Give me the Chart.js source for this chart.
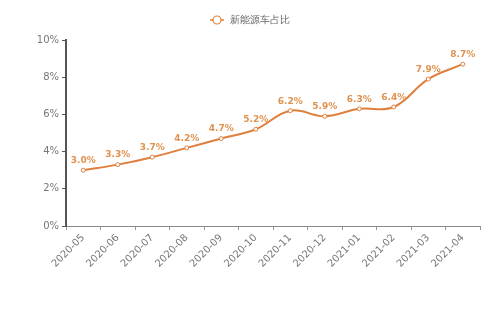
<!DOCTYPE html>
<html><head><meta charset="utf-8">
<script src="https://cdn.jsdelivr.net/npm/chart.js@4"></script>
<style>html,body{margin:0;padding:0;background:#fff}#wrap{width:500px;height:333px}</style>
</head><body><div id="wrap"><canvas id="c" width="500" height="333"></canvas></div>
<script>
const categories = ['2020-05','2020-06','2020-07','2020-08','2020-09','2020-10','2020-11','2020-12','2021-01','2021-02','2021-03','2021-04'];
const shareValues = [3.0, 3.3, 3.7, 4.2, 4.7, 5.2, 6.2, 5.9, 6.3, 6.4, 7.9, 8.7];
const yTicks = [0, 2, 4, 6, 8, 10];
const seriesName = '新能源车占比';

const LINE = '#e07f3c';
const LABEL = '#e0924f';
const FONT = '"DejaVu Sans", sans-serif';

const labelPlugin = {
  id: 'valLabels',
  afterDatasetsDraw(chart) {
    const ctx = chart.ctx;
    const meta = chart.getDatasetMeta(0);
    ctx.save();
    ctx.font = '600 9px ' + FONT;
    ctx.fillStyle = LABEL;
    ctx.textAlign = 'center';
    ctx.textBaseline = 'bottom';
    meta.data.forEach((pt, i) => {
      ctx.fillText(shareValues[i].toFixed(1) + '%', pt.x, pt.y - 5);
    });
    ctx.restore();
  }
};

const legendPlugin = {
  id: 'topLegend',
  afterDraw(chart) {
    const ctx = chart.ctx;
    const ds = chart.data.datasets[0];
    ctx.save();
    ctx.font = '10px ' + FONT;
    const tw = ctx.measureText(ds.label).width;
    const iconW = 14, gap = 6;
    const total = iconW + gap + tw;
    const x0 = chart.width / 2 - total / 2;
    const cy = 20;
    ctx.strokeStyle = ds.borderColor;
    ctx.lineWidth = 1.5;
    ctx.beginPath(); ctx.moveTo(x0, cy); ctx.lineTo(x0 + iconW, cy); ctx.stroke();
    ctx.beginPath(); ctx.arc(x0 + iconW / 2, cy, 4, 0, Math.PI * 2);
    ctx.fillStyle = '#fff'; ctx.fill(); ctx.lineWidth = 1.2; ctx.stroke();
    ctx.fillStyle = '#666';
    ctx.textAlign = 'left';
    ctx.textBaseline = 'middle';
    ctx.fillText(ds.label, x0 + iconW + gap, cy);
    ctx.restore();
  }
};

new Chart(document.getElementById('c'), {
  type: 'line',
  data: {
    labels: categories,
    datasets: [{
      label: seriesName,
      data: shareValues,
      borderColor: LINE,
      borderWidth: 2,
      backgroundColor: '#fff',
      pointBackgroundColor: '#fff',
      pointBorderColor: LINE,
      pointBorderWidth: 1,
      pointRadius: 2,
      tension: 0.4,
      fill: false
    }]
  },
  options: {
    responsive: false,
    animation: false,
    devicePixelRatio: 1,
    layout: { padding: { left: 0, right: 20, top: 40, bottom: 0 } },
    plugins: {
      legend: { display: false },
      tooltip: { enabled: false }
    },
    scales: {
      x: {
        offset: true,
        grid: { display: true, offset: true, drawOnChartArea: false, drawTicks: true, tickLength: 4, color: '#999' },
        border: { display: true, color: '#888', width: 1 },
        ticks: { color: '#777', font: { family: FONT, size: 10 }, maxRotation: 45, minRotation: 45, autoSkip: false, padding: 2 },
        afterFit(s) { s.height = 107; }
      },
      y: {
        min: 0, max: 10,
        afterBuildTicks(s) { s.ticks = yTicks.map(v => ({ value: v })); },
        grid: { display: true, drawOnChartArea: false, drawTicks: true, tickLength: 4, color: '#555' },
        border: { display: true, color: '#555', width: 2 },
        ticks: { color: '#777', font: { family: FONT, size: 10 }, padding: 3, callback: v => v + '%' },
        afterFit(s) { s.width = 66; }
      }
    }
  },
  plugins: [labelPlugin, legendPlugin]
});
</script>
</body></html>
